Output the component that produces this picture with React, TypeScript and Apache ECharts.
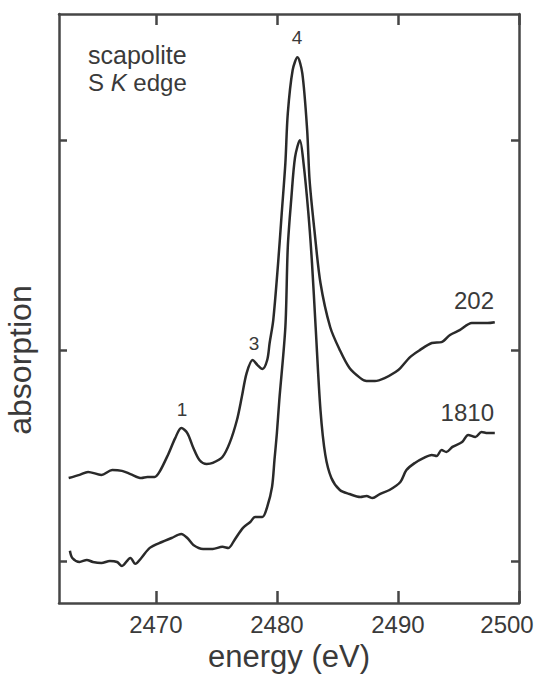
import React, { useEffect, useRef } from "react";
import * as echarts from "echarts";

// sample 202 (upper curve): energy (eV) and absorption (offset, arbitrary units)
const energy202 = [
  2462.8, 2463.7, 2464.4, 2465.5, 2466.4, 2467.2, 2467.9, 2468.8, 2469.3, 2469.9,
  2470.3, 2471.0, 2471.6, 2472.1, 2472.6, 2473.1, 2473.6, 2474.2, 2474.7, 2475.5,
  2476.1, 2476.7, 2477.1, 2477.5, 2478.0, 2478.4, 2478.8, 2479.2, 2479.4, 2479.7,
  2480.1, 2480.4, 2480.7, 2480.9, 2481.3, 2481.7, 2482.1, 2482.5, 2482.7, 2483.1,
  2483.6, 2484.4, 2485.2, 2486.0, 2486.9, 2487.4, 2488.1, 2488.9, 2489.8, 2490.2,
  2491.0, 2491.8, 2492.8, 2493.6, 2494.3, 2495.1, 2496.1, 2496.8, 2497.4, 2498.0,
];
const absorption202 = [
  0.394, 0.409, 0.423, 0.409, 0.432, 0.428, 0.413, 0.394, 0.399, 0.399,
  0.423, 0.504, 0.584, 0.632, 0.608, 0.537, 0.48, 0.461, 0.466, 0.494,
  0.561, 0.67, 0.779, 0.893, 0.955, 0.931, 0.912, 0.955, 1.036, 1.145,
  1.416, 1.653, 1.891, 2.128, 2.333, 2.394, 2.318, 2.048, 1.81, 1.572,
  1.321, 1.112, 1.002, 0.917, 0.869, 0.855, 0.855, 0.869, 0.898, 0.917,
  0.969, 1.002, 1.036, 1.04, 1.074, 1.097, 1.131, 1.131, 1.131, 1.135,
];

// sample 1810 (lower curve)
const energy1810 = [
  2462.9, 2463.1, 2463.7, 2464.3, 2464.8, 2465.5, 2466.2, 2466.8, 2467.2, 2467.9,
  2468.3, 2468.8, 2469.5, 2470.5, 2471.3, 2472.1, 2472.6, 2473.1, 2473.9, 2474.7,
  2475.5, 2476.0, 2476.5, 2477.2, 2477.8, 2478.2, 2478.8, 2479.2, 2479.6, 2479.8,
  2480.0, 2480.2, 2480.7, 2480.9, 2481.2, 2481.5, 2481.9, 2482.2, 2482.6, 2482.9,
  2483.2, 2483.6, 2484.0, 2484.5, 2485.2, 2486.0, 2486.9, 2487.4, 2487.9, 2488.5,
  2489.3, 2490.2, 2490.7, 2491.4, 2492.1, 2492.8, 2493.2, 2493.6, 2494.0, 2494.5,
  2495.3, 2495.8, 2496.4, 2496.9, 2497.4, 2498.0,
];
const absorption1810 = [
  0.048, 0.014, -0.005, 0.005, -0.005, -0.01, 0.0, -0.005, -0.024, 0.014,
  -0.014, 0.014, 0.062, 0.09, 0.109, 0.128, 0.109, 0.076, 0.057, 0.057,
  0.067, 0.062, 0.1, 0.157, 0.185, 0.209, 0.209, 0.257, 0.352, 0.48,
  0.608, 0.765, 1.112, 1.492, 1.729, 1.919, 2.0, 1.891, 1.653, 1.416,
  1.112, 0.717, 0.504, 0.394, 0.337, 0.318, 0.304, 0.309, 0.299, 0.318,
  0.337, 0.375, 0.432, 0.466, 0.489, 0.504, 0.499, 0.527, 0.518, 0.542,
  0.565, 0.599, 0.589, 0.613, 0.608, 0.608,
];

const xTicks = [2470, 2480, 2490, 2500];
const yTicks = [0, 1, 2];

const FONT = "'Liberation Sans', Arial, Helvetica, sans-serif";
const TEXT = "#3a3a3a";
const AXIS = "#464646";
const LINE = "#2a2a2a";

export default function App() {
  const ref = useRef<HTMLDivElement>(null);
  useEffect(() => {
    if (!ref.current) return;
    const chart = echarts.init(ref.current, undefined, { renderer: "svg" });
    const axisLineStyle = { color: AXIS, width: 2.5 };
    const pairs = (xs: number[], ys: number[]) => xs.map((x, i) => [x, ys[i]]);
    const xBase = {
      type: "value" as const,
      min: 2462,
      max: 2500,
      splitLine: { show: false },
      axisLine: { show: true, onZero: false, lineStyle: axisLineStyle },
    };
    const yBase = {
      type: "value" as const,
      min: -0.2,
      max: 2.6,
      splitLine: { show: false },
      axisLine: { show: true, onZero: false, lineStyle: axisLineStyle },
      axisLabel: { show: false },
      axisTick: { show: true, inside: true, length: 8, customValues: yTicks, lineStyle: axisLineStyle },
    };
    const peakLabel = (text: string, x: number, y: number) => ({
      type: "text",
      x,
      y,
      style: { text, fontSize: 19, fontFamily: FONT, fill: TEXT, align: "center", verticalAlign: "middle" },
    });
    chart.setOption({
      animation: false,
      backgroundColor: "#ffffff",
      grid: { left: 59, right: 20, top: 14, bottom: 76, outerBoundsMode: "none", containLabel: false },
      xAxis: [
        {
          ...xBase,
          position: "bottom",
          axisTick: { show: true, inside: true, length: 12, customValues: xTicks, lineStyle: axisLineStyle },
          axisLabel: {
            show: true,
            customValues: xTicks,
            margin: 9,
            color: TEXT,
            fontSize: 24,
            fontFamily: FONT,
            formatter: (v: number) => (v === 2500 ? "{r|2500}" : String(v)),
            rich: { r: { fontSize: 24, fontFamily: FONT, color: TEXT, padding: [0, 24, 0, 0] } },
          },
          name: "energy (eV)",
          nameLocation: "middle",
          nameGap: 37,
          nameTextStyle: { fontSize: 31, fontFamily: FONT, color: TEXT },
        },
        {
          ...xBase,
          position: "top",
          axisTick: { show: true, inside: true, length: 11, customValues: xTicks, lineStyle: axisLineStyle },
          axisLabel: { show: false },
        },
      ],
      yAxis: [
        { ...yBase, position: "left" },
        { ...yBase, position: "right" },
      ],
      series: [
        {
          name: "202",
          type: "line",
          data: pairs(energy202, absorption202),
          showSymbol: false,
          smooth: 0.3,
          lineStyle: { color: LINE, width: 2.5 },
        },
        {
          name: "1810",
          type: "line",
          data: pairs(energy1810, absorption1810),
          showSymbol: false,
          smooth: 0.3,
          lineStyle: { color: LINE, width: 2.5 },
        },
      ],
      graphic: [
        {
          type: "text",
          x: 88,
          y: 55,
          style: { text: "scapolite", fontSize: 25, fontFamily: FONT, fill: TEXT, align: "left", verticalAlign: "middle" },
        },
        {
          type: "text",
          x: 88,
          y: 82,
          style: {
            text: "{a|S }{b|K}{a| edge}",
            fontSize: 24,
            fontFamily: FONT,
            fill: TEXT,
            align: "left",
            verticalAlign: "middle",
            rich: {
              a: { fontSize: 24, fontFamily: FONT, fill: TEXT },
              b: { fontSize: 24, fontFamily: FONT, fill: TEXT, fontStyle: "italic" },
            },
          },
        },
        {
          type: "text",
          x: 20,
          y: 360,
          rotation: Math.PI / 2,
          style: { text: "absorption", fontSize: 32, fontFamily: FONT, fill: TEXT, align: "center", verticalAlign: "middle" },
        },
        peakLabel("1", 182, 409),
        peakLabel("3", 254, 343),
        peakLabel("4", 297, 37),
        { type: "text", x: 494, y: 300, style: { text: "202", fontSize: 24, fontFamily: FONT, fill: TEXT, align: "right", verticalAlign: "middle" } },
        { type: "text", x: 494, y: 412, style: { text: "1810", fontSize: 24, fontFamily: FONT, fill: TEXT, align: "right", verticalAlign: "middle" } },
      ],
    });
    return () => chart.dispose();
  }, []);
  return (
    <div
      ref={ref}
      style={{ position: "fixed", left: 0, top: 0, width: 539, height: 679, background: "#fff" }}
    />
  );
}
